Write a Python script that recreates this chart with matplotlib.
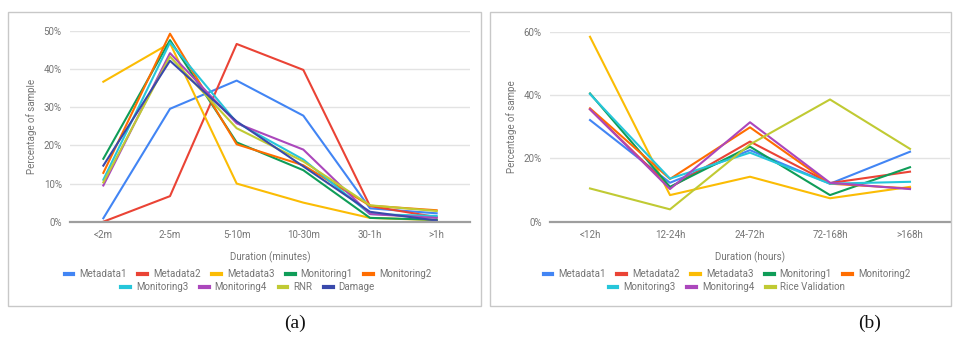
import matplotlib.pyplot as plt
from matplotlib.patches import Rectangle
from matplotlib.lines import Line2D
from matplotlib.ticker import PercentFormatter

# share of sessions per duration bucket, in percent
min_buckets = ["<2m", "2-5m", "5-10m", "10-30m", "30-1h", ">1h"]
min_names = ["Metadata1", "Metadata2", "Metadata3", "Monitoring1", "Monitoring2",
             "Monitoring3", "Monitoring4", "RNR", "Damage"]
metadata1_min = [0.9, 29.6, 37.0, 27.8, 3.5, 2.2]
metadata2_min = [0.0, 6.7, 46.6, 39.8, 4.1, 1.2]
metadata3_min = [36.7, 46.8, 10.0, 5.0, 1.0, 0.4]
monitoring1_min = [16.5, 47.6, 20.8, 13.5, 1.0, 0.5]
monitoring2_min = [12.8, 49.3, 20.3, 14.8, 4.2, 3.0]
monitoring3_min = [11.0, 47.0, 26.0, 16.3, 2.0, 1.5]
monitoring4_min = [9.5, 44.2, 25.8, 18.9, 2.0, 1.0]
rnr_min = [10.3, 43.3, 24.5, 15.8, 4.3, 2.8]
damage_min = [14.7, 42.2, 26.3, 14.5, 2.6, 0.3]

hour_buckets = ["<12h", "12-24h", "24-72h", "72-168h", ">168h"]
hour_names = ["Metadata1", "Metadata2", "Metadata3", "Monitoring1", "Monitoring2",
              "Monitoring3", "Monitoring4", "Rice Validation"]
metadata1_hr = [32.1, 12.3, 22.6, 12.0, 22.1]
metadata2_hr = [35.5, 10.8, 25.3, 12.2, 15.8]
metadata3_hr = [58.4, 8.4, 14.2, 7.4, 11.0]
monitoring1_hr = [40.5, 11.0, 23.7, 8.4, 17.2]
monitoring2_hr = [35.8, 13.5, 29.8, 12.0, 10.5]
monitoring3_hr = [40.3, 13.6, 21.8, 12.0, 12.6]
monitoring4_hr = [35.5, 10.3, 31.4, 12.3, 10.3]
rice_hr = [10.5, 3.9, 24.4, 38.6, 23.0]

colors = ["#4285F4", "#EA4335", "#FBBC04", "#0F9D58", "#FF6D00",
          "#26C6DA", "#AB47BC", "#C0CA33", "#3949AB"]
txt = "#757575"

plt.rcParams["font.family"] = ["Roboto", "DejaVu Sans"]

fig = plt.figure(figsize=(9.54, 3.38), dpi=100)
W, H = 954, 338


def px_axes(x0, y0, x1, y1):
    return fig.add_axes([x0 / W, 1 - y1 / H, (x1 - x0) / W, (y1 - y0) / H])


def frame(x0, y0, x1, y1):
    fig.patches.append(Rectangle((x0 / W, 1 - y1 / H), (x1 - x0) / W, (y1 - y0) / H,
                                 transform=fig.transFigure, fill=False,
                                 edgecolor="#c8c8c8", linewidth=1.0))


def style(ax, ymax, step, ylabel, xlabel):
    ax.set_ylim(0, ymax)
    ax.set_yticks(range(0, ymax + 1, step))
    ax.yaxis.set_major_formatter(PercentFormatter(decimals=0))
    ax.grid(axis="y", color="#e3e3e3", linewidth=1.0)
    ax.set_axisbelow(True)
    for s in ["top", "right", "left"]:
        ax.spines[s].set_visible(False)
    ax.spines["bottom"].set_color("#9e9e9e")
    ax.spines["bottom"].set_linewidth(1.6)
    ax.tick_params(length=0, labelsize=7, colors=txt, pad=6)
    ax.set_ylabel(ylabel, fontsize=7, color=txt, labelpad=5)
    ax.set_xlabel(xlabel, fontsize=7, color=txt, labelpad=8)


def legend_rows(ax, names, cx, rows):
    handles = [Line2D([], [], color=colors[i], linewidth=3) for i in range(len(names))]
    start = 0
    for n, y in rows:
        fig.legend(handles[start:start + n], names[start:start + n], ncol=n,
                   loc="center", bbox_to_anchor=(cx / W, 1 - y / H),
                   frameon=False, fontsize=7, handlelength=0.9,
                   handletextpad=0.6, columnspacing=1.2, labelcolor=txt)
        start += n


# (a) minutes
frame(8, 12, 481, 306)
ax1 = px_axes(70, 31, 470, 221.7)
series_min = [metadata1_min, metadata2_min, metadata3_min, monitoring1_min,
              monitoring2_min, monitoring3_min, monitoring4_min, rnr_min, damage_min]
for i, vals in enumerate(series_min):
    ax1.plot(min_buckets, vals, color=colors[i], linewidth=1.5)
ax1.set_xlim(-0.5, len(min_buckets) - 0.5)
style(ax1, 50, 10, "Percentage of sample", "Duration (minutes)")
legend_rows(ax1, min_names, 248, [(5, 274), (4, 287)])
fig.text(295 / W, 1 - 323 / H, "(a)", ha="center", va="center",
         fontsize=14, family="Liberation Serif", color="#111111")

# (b) hours
frame(490, 12, 951, 306)
ax2 = px_axes(550, 31.7, 950, 221.7)
series_hr = [metadata1_hr, metadata2_hr, metadata3_hr, monitoring1_hr,
             monitoring2_hr, monitoring3_hr, monitoring4_hr, rice_hr]
for i, vals in enumerate(series_hr):
    ax2.plot(hour_buckets, vals, color=colors[i], linewidth=1.5)
ax2.set_xlim(-0.5, len(hour_buckets) - 0.5)
style(ax2, 60, 20, "Percentage of sampe", "Duration (hours)")
legend_rows(ax2, hour_names, 727, [(5, 274), (3, 287)])
fig.text(870 / W, 1 - 323 / H, "(b)", ha="center", va="center",
         fontsize=14, family="Liberation Serif", color="#111111")

fig.savefig("out.png", dpi=100)
